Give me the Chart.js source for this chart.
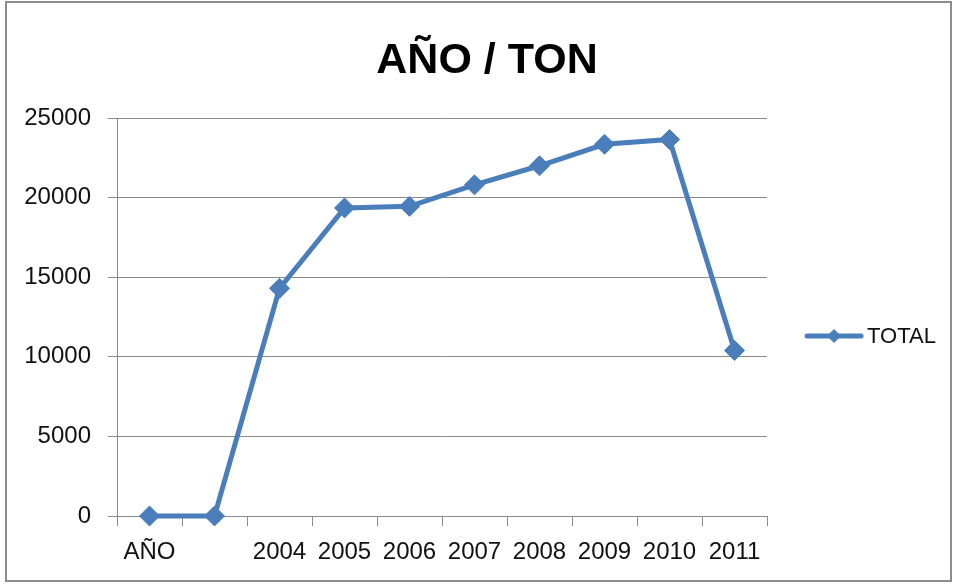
<!DOCTYPE html>
<html>
<head>
<meta charset="utf-8">
<script src="https://cdn.jsdelivr.net/npm/chart.js@4/dist/chart.umd.min.js"></script>
<style>
  html, body { margin: 0; padding: 0; background: #fff; }
  #wrap { width: 955px; height: 584px; position: relative; }
</style>
</head>
<body>
<div id="wrap"><canvas id="chart" width="955" height="584"></canvas></div>
<script>
const categories = ['AÑO', '', '2004', '2005', '2006', '2007', '2008', '2009', '2010', '2011']
const totals = [0, 0, 14300, 19350, 19450, 20800, 22000, 23350, 23650, 10400]
const seriesLabel = 'TOTAL'
const chartTitle = 'AÑO / TON'
const yTicks = [0, 5000, 10000, 15000, 20000, 25000]

const blue = '#4A7EBB'
const gridGray = '#8a8a8a'
const fontFamily = '"Liberation Sans", Arial, sans-serif'

// frame around the whole chart + title centred on the frame (not the plot)
const framePlugin = {
  id: 'frame',
  beforeDraw(chart) {
    const ctx = chart.ctx
    ctx.save()
    ctx.fillStyle = '#fff'
    ctx.fillRect(0, 0, chart.width, chart.height)
    ctx.strokeStyle = '#8c8c8c'
    ctx.lineWidth = 2
    ctx.strokeRect(6, 2, 945, 579)
    ctx.fillStyle = '#000'
    ctx.font = 'bold 43px ' + fontFamily
    ctx.textAlign = 'center'
    ctx.textBaseline = 'middle'
    ctx.fillText(chartTitle, 487, 61)
    ctx.restore()
  }
}

// excel style legend: line sample with a diamond, then the label
const sideLegend = {
  id: 'sideLegend',
  afterDraw(chart) {
    const ctx = chart.ctx
    const area = chart.chartArea
    const ds = chart.data.datasets[0]
    const x0 = area.right + 40
    const y = area.top + (area.bottom - area.top) * 0.548
    ctx.save()
    ctx.strokeStyle = ds.borderColor
    ctx.lineWidth = 5
    ctx.lineCap = 'round'
    ctx.beginPath()
    ctx.moveTo(x0, y)
    ctx.lineTo(x0 + 54, y)
    ctx.stroke()
    const cx = x0 + 27, r = 7
    ctx.fillStyle = ds.backgroundColor
    ctx.beginPath()
    ctx.moveTo(cx, y - r)
    ctx.lineTo(cx + r, y)
    ctx.lineTo(cx, y + r)
    ctx.lineTo(cx - r, y)
    ctx.closePath()
    ctx.fill()
    ctx.fillStyle = '#111'
    ctx.font = '22px ' + fontFamily
    ctx.textBaseline = 'middle'
    ctx.textAlign = 'left'
    ctx.fillText(ds.label, x0 + 60, y + 1)
    ctx.restore()
  }
}

new Chart(document.getElementById('chart').getContext('2d'), {
  type: 'line',
  data: {
    labels: categories,
    datasets: [
      {
        label: seriesLabel,
        data: totals,
        borderColor: blue,
        backgroundColor: blue,
        borderWidth: 5,
        tension: 0,
        clip: false,
        pointStyle: 'rectRot',
        pointRadius: 10,
        pointHoverRadius: 10,
        pointBorderWidth: 1,
        pointBackgroundColor: blue,
        pointBorderColor: blue
      }
    ]
  },
  options: {
    responsive: false,
    animation: false,
    layout: { padding: { top: 118, left: 24, right: 188, bottom: 8 } },
    plugins: {
      legend: { display: false },
      tooltip: { enabled: false },
      title: { display: false }
    },
    scales: {
      x: {
        offset: true,
        grid: { offset: true, drawOnChartArea: false, drawTicks: true, tickLength: 10, color: gridGray },
        border: { display: true, color: gridGray, width: 1 },
        ticks: {
          autoSkip: false,
          maxRotation: 0,
          padding: 12,
          color: '#111',
          font: { family: fontFamily, size: 24 }
        },
        afterFit(s) { s.height = 60 }
      },
      y: {
        min: 0,
        max: 25000,
        afterBuildTicks(s) { s.ticks = yTicks.map(v => ({ value: v })) },
        grid: { color: gridGray, tickLength: 9, drawTicks: true },
        border: { display: true, color: gridGray, width: 1 },
        ticks: {
          padding: 17,
          color: '#111',
          font: { family: fontFamily, size: 24 },
          callback: v => String(v)
        },
        afterFit(s) { s.width = 93 }
      }
    }
  },
  plugins: [framePlugin, sideLegend]
})
</script>
</body>
</html>
